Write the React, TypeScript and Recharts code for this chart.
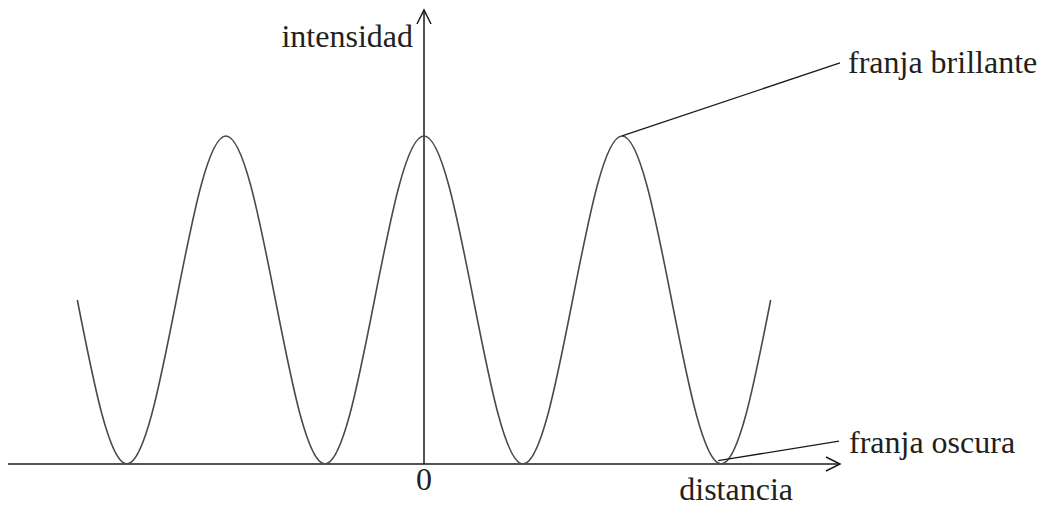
import React from 'react';
import { LineChart, Line, XAxis, YAxis, ReferenceLine } from 'recharts';

// distance positions (in fringe spacings) and relative intensity
const distance = [
  -1.75, -1.625, -1.5, -1.375, -1.25, -1.125, -1, -0.875, -0.75, -0.625, -0.5, -0.375, -0.25, -0.125, 0,
  0.125, 0.25, 0.375, 0.5, 0.625, 0.75, 0.875, 1, 1.125, 1.25, 1.375, 1.5, 1.625, 1.75,
];
const intensity = [
  0.5, 0.15, 0, 0.15, 0.5, 0.85, 1, 0.85, 0.5, 0.15, 0, 0.15, 0.5, 0.85, 1,
  0.85, 0.5, 0.15, 0, 0.15, 0.5, 0.85, 1, 0.85, 0.5, 0.15, 0, 0.15, 0.5,
];

// annotation labels: [anchor on curve] -> [label end]
const brightLabel = 'franja brillante';
const brightSegment = [{ x: 1, y: 1 }, { x: 2.1, y: 1.223 }];
const darkLabel = 'franja oscura';
const darkSegment = [{ x: 1.485, y: 0.01 }, { x: 2.095, y: 0.07 }];

const xLabel = 'distancia';
const yLabel = 'intensidad';
const originLabel = '0';

const data = distance.map((d, i) => ({ d, v: intensity[i] }));

const FONT = '"Liberation Serif", "Times New Roman", serif';
const TEXT = '#231f20';
const AXIS = '#1a1a1a';

const XAxisArrow = (p: any) => {
  const left = Math.min(p.x1, p.x2);
  const right = Math.max(p.x1, p.x2);
  const y = p.y1;
  return (
    <g>
      <line x1={left} y1={y} x2={right} y2={y} stroke={AXIS} strokeWidth={1.5} />
      <polyline
        points={`${right - 14},${y - 7} ${right},${y} ${right - 14},${y + 7}`}
        fill="none"
        stroke={AXIS}
        strokeWidth={1.5}
      />
      <text x={right - 47} y={y + 36} textAnchor="end" fontFamily={FONT} fontSize={32} fill={TEXT}>
        {xLabel}
      </text>
    </g>
  );
};

const YAxisArrow = (p: any) => {
  const x = p.x1;
  const top = Math.min(p.y1, p.y2);
  const bottom = Math.max(p.y1, p.y2);
  return (
    <g>
      <line x1={x} y1={bottom} x2={x} y2={top} stroke={AXIS} strokeWidth={1.5} />
      <polyline
        points={`${x - 7},${top + 14} ${x},${top} ${x + 7},${top + 14}`}
        fill="none"
        stroke={AXIS}
        strokeWidth={1.5}
      />
      <text x={x - 11} y={top + 37} textAnchor="end" fontFamily={FONT} fontSize={32} fill={TEXT}>
        {yLabel}
      </text>
      <text x={x} y={bottom + 26} textAnchor="middle" fontFamily={FONT} fontSize={32} fill={TEXT}>
        {originLabel}
      </text>
    </g>
  );
};

const makeLeader = (label: string, dx: number, dy: number) => (p: any) => {
  const endIsSecond = p.x2 >= p.x1;
  const ex = endIsSecond ? p.x2 : p.x1;
  const ey = endIsSecond ? p.y2 : p.y1;
  const sx = endIsSecond ? p.x1 : p.x2;
  const sy = endIsSecond ? p.y1 : p.y2;
  return (
    <g>
      <line x1={sx} y1={sy} x2={ex} y2={ey} stroke={AXIS} strokeWidth={1.3} />
      <text x={ex + dx} y={ey + dy} textAnchor="start" fontFamily={FONT} fontSize={32} fill={TEXT}>
        {label}
      </text>
    </g>
  );
};

const BrightLeader = makeLeader(brightLabel, 8, 10);
const DarkLeader = makeLeader(darkLabel, 10, 12);

export default function App() {
  return (
    <div style={{ position: 'absolute', left: 0, top: 0, width: 1041, height: 506, background: '#fff' }}>
      <LineChart
        width={1041}
        height={506}
        data={data}
        margin={{ top: 10, right: 201, bottom: 42, left: 8 }}
      >
        <XAxis dataKey="d" type="number" domain={[-2.1, 2.1]} hide allowDataOverflow />
        <YAxis type="number" domain={[0, 1.384]} hide allowDataOverflow />
        <ReferenceLine y={0} ifOverflow="visible" shape={XAxisArrow} />
        <ReferenceLine x={0} ifOverflow="visible" shape={YAxisArrow} />
        <Line
          dataKey="v"
          type="natural"
          stroke="#4a4a4a"
          strokeWidth={1.6}
          dot={false}
          activeDot={false}
          isAnimationActive={false}
        />
        <ReferenceLine segment={brightSegment} ifOverflow="visible" shape={BrightLeader} />
        <ReferenceLine segment={darkSegment} ifOverflow="visible" shape={DarkLeader} />
      </LineChart>
    </div>
  );
}
